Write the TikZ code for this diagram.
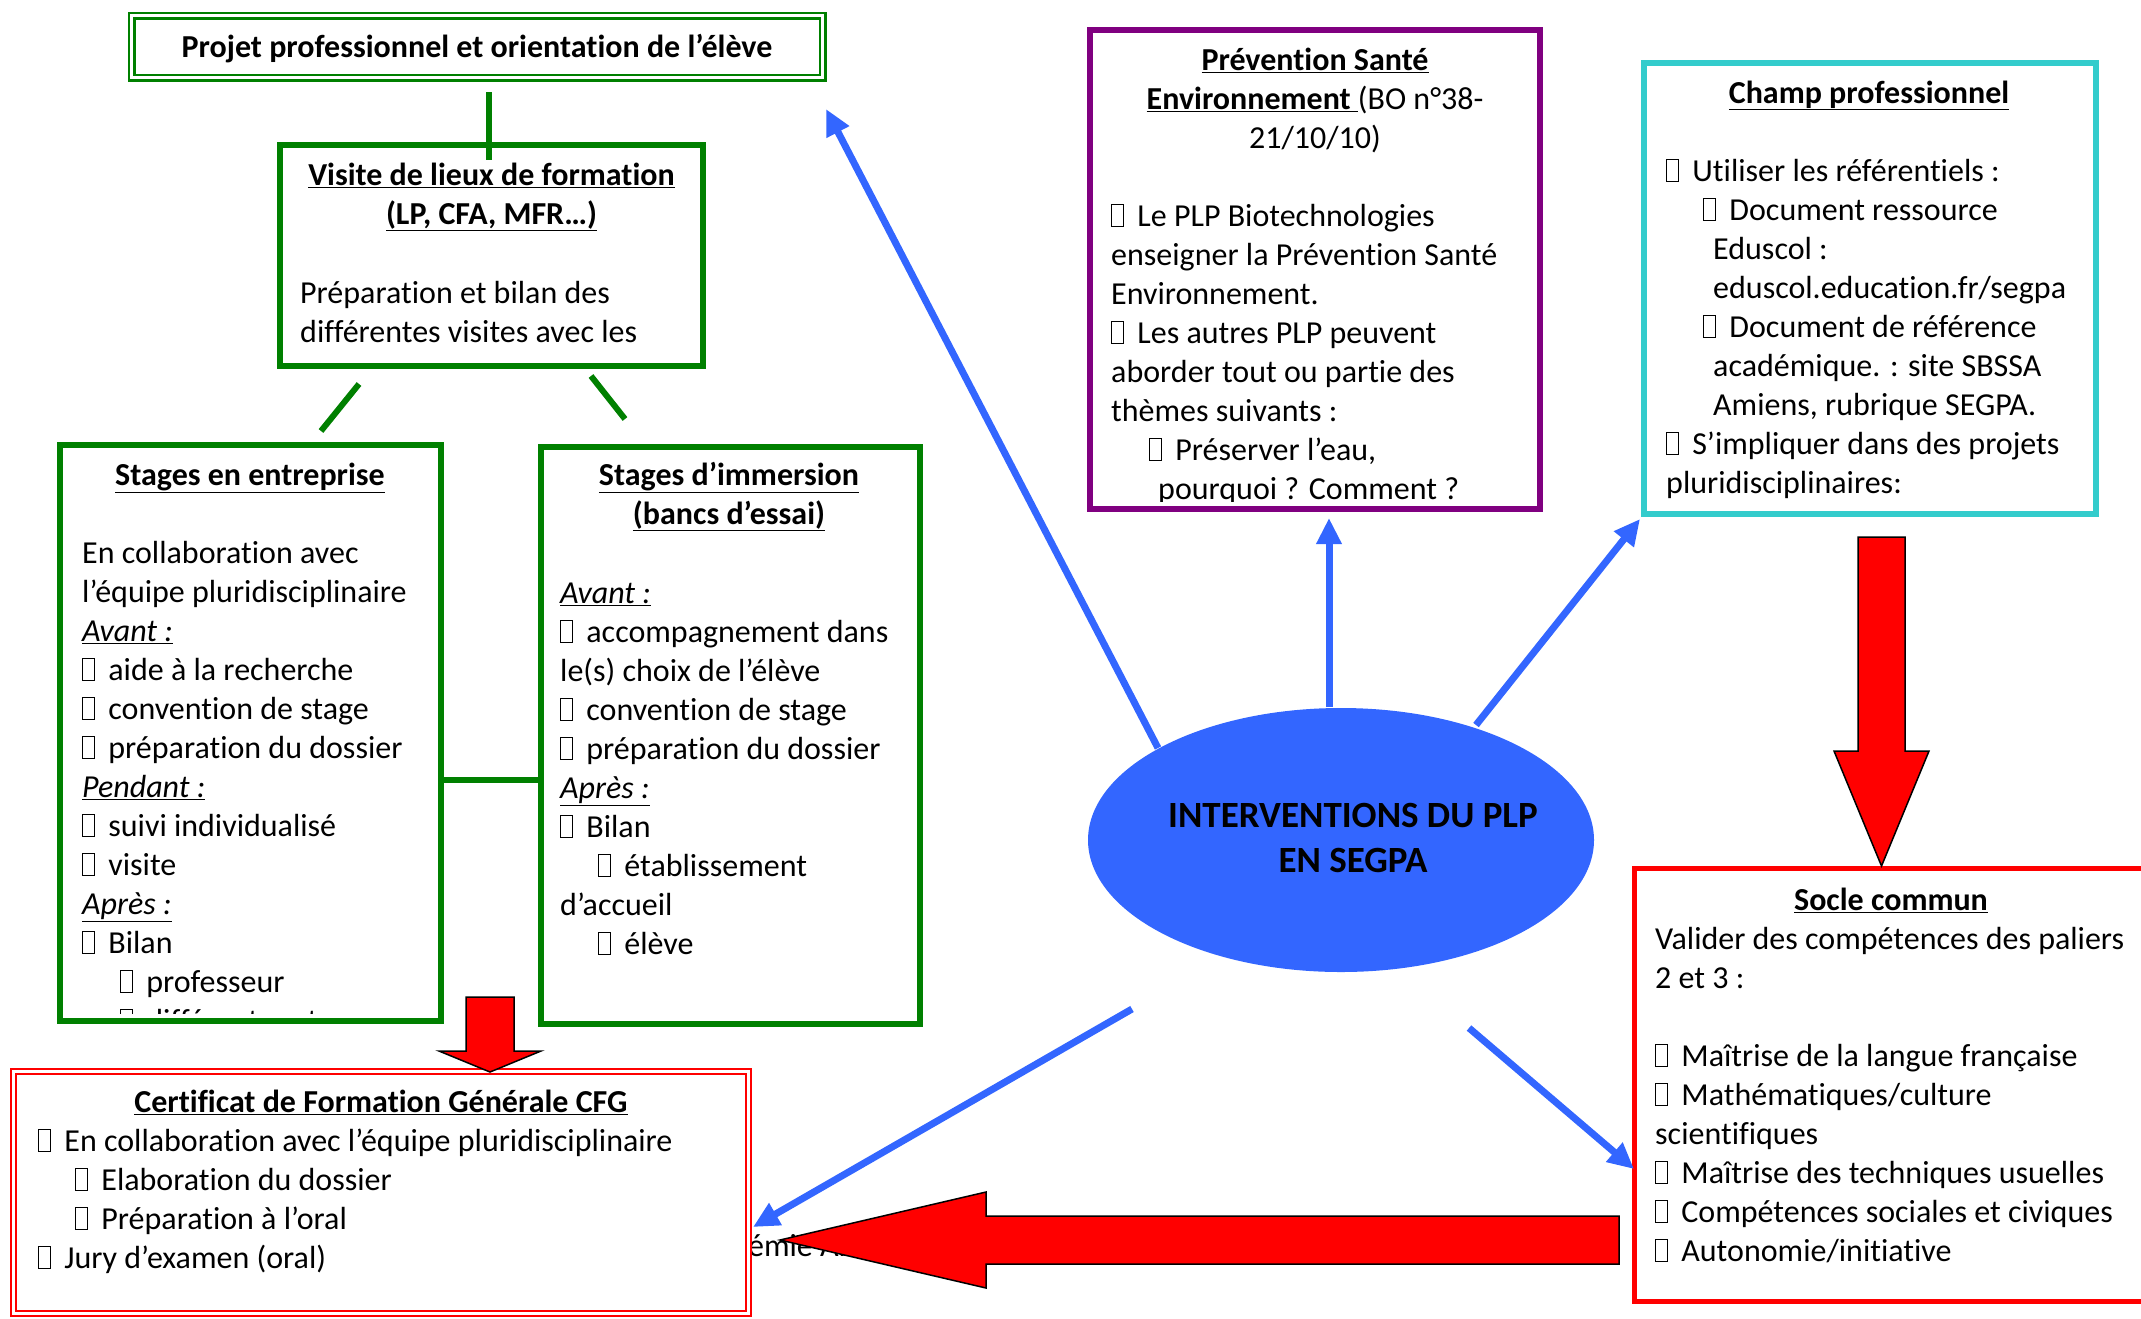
\documentclass[tikz,border=0pt]{standalone}
\usepackage{fontspec}
\setmainfont{Carlito}[Ligatures=CommonOff]
\usetikzlibrary{shapes.geometric,arrows.meta}
\definecolor{gr}{RGB}{0,128,0}
\definecolor{pu}{RGB}{128,0,128}
\definecolor{cy}{RGB}{51,204,204}
\definecolor{rd}{RGB}{255,0,0}
\definecolor{bl}{RGB}{51,102,255}
\newcommand\fsz{\fontsize{32pt}{39pt}\selectfont}
\newcommand\firstl{\rule{0pt}{34pt}}
\newcommand\bx{{\setlength\fboxsep{0pt}\setlength\fboxrule{1.1pt}\fbox{\rule{0pt}{21pt}\hspace{11pt}}}\hspace{13pt}}
\newcommand\uln[1]{\underline{#1}}
\begin{document}
\begin{tikzpicture}[x=1pt,y=-1pt,
  gbox/.style={draw=gr, line width=6pt, inner sep=0pt},
  tl/.style={inner sep=0pt, anchor=north west, align=left, font=\fsz},
  tc/.style={inner sep=0pt, anchor=north, align=center, font=\fsz},
  glink/.style={draw=gr, line width=6pt},
  blarrow/.style={draw=bl, line width=7pt, -{Triangle[length=26pt,width=24pt]}},
  redarrow/.style={fill=rd, draw=black, line width=1.5pt, line join=miter},
]
\useasboundingbox (0,0) rectangle (2141,1318);

% hidden text behind CFG box and arrow
\node[inner sep=0pt, anchor=base west, font=\fsz] (hid) at (684,1256) {Académie Amiens};

% top box
\node[draw=gr, double=white, double distance=3pt, line width=2.5pt, minimum width=691pt, minimum height=62pt, inner sep=0pt] (top) at (477,46.5) {};
\node[inner sep=0pt, anchor=base, font=\fsz\bfseries] (topT) at (477,57) {Projet professionnel et orientation de l’élève};

% Visite
\node[gbox, minimum width=423pt, minimum height=221pt] (visite) at (491.5,255.5) {};
\node[tc] (visT) at (491.5,151) {\firstl\uln{\textbf{Visite de lieux de formation}}\\\uln{\textbf{(LP, CFA, MFR…)}}};
\node[tl] (visB) at (300,269) {\firstl Préparation et bilan des\\différentes visites avec les};

% Stages en entreprise
\node[gbox, minimum width=381pt, minimum height=576pt] (stent) at (250.5,733) {};
\node[tc] (stentT) at (250,451) {\firstl\uln{\textbf{Stages en entreprise}}};
\begin{scope}
\clip (63,448) rectangle (438,1013);
\node[tl] (stentB) at (82,529) {\firstl En collaboration avec\\
l’équipe pluridisciplinaire\\
\uln{\textit{Avant :}}\\
\bx aide à la recherche\\
\bx convention de stage\\
\bx préparation du dossier\\
\uln{\textit{Pendant :}}\\
\bx suivi individualisé\\
\bx visite\\
\uln{\textit{Après :}}\\
\bx Bilan\\
\hspace*{38pt}\bx professeur\\
\hspace*{38pt}\bx différents acteurs};
\end{scope}

% Stages d'immersion
\node[gbox, minimum width=379pt, minimum height=577pt] (stimm) at (730.5,735.5) {};
\node[tc] (stimmT) at (729,451) {\firstl\uln{\textbf{Stages d’immersion}}\\\uln{\textbf{(bancs d’essai)}}};
\node[tl] (stimmB) at (560,569) {\firstl\uln{\textit{Avant :}}\\
\bx accompagnement dans\\
le(s) choix de l’élève\\
\bx convention de stage\\
\bx préparation du dossier\\
\uln{\textit{Après :}}\\
\bx Bilan\\
\hspace*{38pt}\bx établissement\\
d’accueil\\
\hspace*{38pt}\bx élève};

% green connectors
\coordinate (g1a) at ([xshift=12pt,yshift=-13.5pt]top.south);
\coordinate (g1b) at ([xshift=-2.5pt,yshift=-18pt]visite.north);
\draw[glink] (g1a) -- (g1b);
\coordinate (g2a) at ([xshift=-132.5pt,yshift=-15pt]visite.south);
\coordinate (g2b) at ([xshift=70.5pt,yshift=11pt]stent.north);
\draw[glink] (g2a) -- (g2b);
\coordinate (g3a) at ([xshift=99.5pt,yshift=-7pt]visite.south);
\coordinate (g3b) at ([xshift=-105.5pt,yshift=25pt]stimm.north);
\draw[glink] (g3a) -- (g3b);
\coordinate (hc) at (0,780);
\draw[glink] (stent.east |- hc) -- (stimm.west |- hc);

% Prevention
\node[draw=pu, line width=6pt, inner sep=0pt, minimum width=450pt, minimum height=479pt] (prev) at (1315,269.5) {};
\node[tc] (prevT) at (1315,36) {\firstl\uln{\textbf{Prévention Santé}}\\\uln{\textbf{Environnement }}(BO n°38-\\21/10/10)};
\begin{scope}
\clip (1093,33) rectangle (1537,501);
\node[tl] (prevB) at (1111,192) {\firstl\bx Le PLP Biotechnologies\\
enseigner la Prévention Santé\\
Environnement.\\
\bx Les autres PLP peuvent\\
aborder tout ou partie des\\
thèmes suivants :\\
\hspace*{38pt}\bx Préserver l’eau,\\
\hspace*{47pt}pourquoi ? Comment ?};
\end{scope}

% Champ professionnel
\node[draw=cy, line width=6pt, inner sep=0pt, minimum width=452pt, minimum height=451pt] (champ) at (1870,288.5) {};
\node[tc] (champT) at (1869,69) {\firstl\uln{\textbf{Champ professionnel}}};
\node[tl] (champB) at (1666,147) {\firstl\bx Utiliser les référentiels :\\
\hspace*{37pt}\bx Document ressource\\
\hspace*{47pt}Eduscol :\\
\hspace*{47pt}eduscol.education.fr/segpa\\
\hspace*{37pt}\bx Document de référence\\
\hspace*{47pt}académique. : site SBSSA\\
\hspace*{47pt}Amiens, rubrique SEGPA.\\
\bx S’impliquer dans des projets\\
pluridisciplinaires:};

% Socle commun
\node[draw=rd, line width=5pt, inner sep=0pt, minimum width=523pt, minimum height=433pt] (socle) at (1896,1085) {};
\node[tc] (socleT) at (1891,876) {\firstl\uln{\textbf{Socle commun}}};
\node[tl] (socleB) at (1655,915) {\firstl Valider des compétences des paliers\\
2 et 3 :\\[39pt]
\bx Maîtrise de la langue française\\
\bx Mathématiques/culture\\
scientifiques\\
\bx Maîtrise des techniques usuelles\\
\bx Compétences sociales et civiques\\
\bx Autonomie/initiative};

% CFG
\node[draw=rd, fill=white, double=white, double distance=3pt, line width=2pt, inner sep=0pt, minimum width=735pt, minimum height=242pt] (cfg) at (381,1192.5) {};
\node[tc] (cfgT) at (381,1078) {\firstl\uln{\textbf{Certificat de Formation Générale CFG}}};
\node[tl] (cfgB) at (38,1117) {\firstl\bx En collaboration avec l’équipe pluridisciplinaire\\
\hspace*{37pt}\bx Elaboration du dossier\\
\hspace*{37pt}\bx Préparation à l’oral\\
\bx Jury d’examen (oral)};

% central ellipse
\node[ellipse, fill=bl, minimum width=506pt, minimum height=264pt, inner sep=0pt] (ell) at (1341,840) {};
\node[inner sep=0pt, align=center, font=\fontsize{37pt}{45pt}\selectfont\bfseries] (ellT) at (1353,838) {INTERVENTIONS DU PLP\\EN SEGPA};

% red block arrows
\draw[redarrow] (1619,1216) -- (986,1216) -- (986,1192) -- (780,1240) -- (986,1288) -- (986,1264) -- (1619,1264) -- cycle;
\draw[redarrow] (466,997) -- (514,997) -- (514,1051) -- (541,1051) -- (490,1072) -- (439,1051) -- (466,1051) -- cycle;
\draw[redarrow] (1858,537) -- (1905,537) -- (1905,751) -- (1929,751) -- (1881.5,866) -- (1834,751) -- (1858,751) -- cycle;

% blue arrows
\coordinate (b1s) at (1158,748); \coordinate (b1e) at (826,109);
\coordinate (b2s) at (1329,707); \coordinate (b2e) at (1329,518);
\coordinate (b3s) at (1476,725); \coordinate (b3e) at (1640,519);
\coordinate (b4s) at (1132,1009); \coordinate (b4e) at (753,1227);
\coordinate (b5s) at (1469,1028); \coordinate (b5e) at (1634,1169);
\draw[blarrow] (b1s) -- (b1e);
\draw[blarrow] (b2s) -- (b2e);
\draw[blarrow] (b3s) -- (b3e);
\draw[blarrow] (b4s) -- (b4e);
\draw[blarrow] (b5s) -- (b5e);
\end{tikzpicture}
\end{document}
